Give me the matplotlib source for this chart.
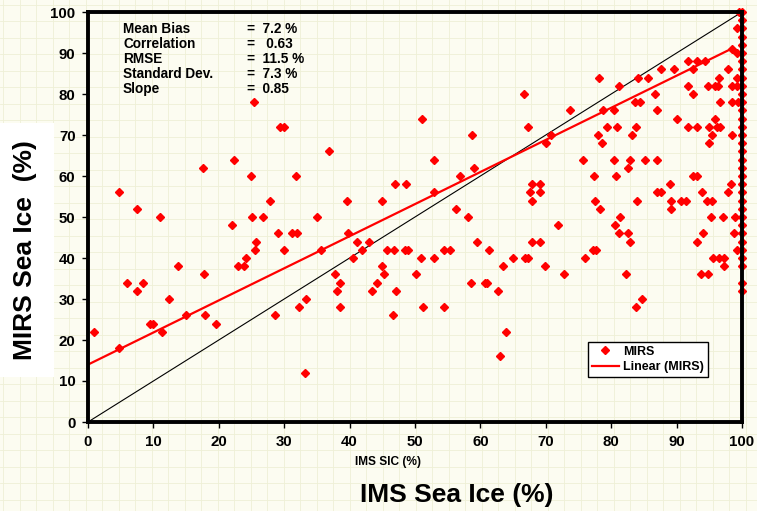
import numpy as np
import matplotlib
matplotlib.use("Agg")
import matplotlib.pyplot as plt

plt.rcParams['font.family'] = ['Liberation Sans', 'DejaVu Sans']
plt.rcParams['font.weight'] = 'bold'

# scatter points: IMS SIC (x) vs MIRS SIC (y)
ims_sic = [0.9, 4.8, 4.8, 6, 7.5, 7.5, 8.4, 9.5, 10, 11, 11.3, 12.4, 13.8, 15, 17.6, 17.7, 17.9, 19.6,
           22, 22.3, 22.9, 23.8, 24.2, 24.9, 25.1, 25.4, 25.5, 25.7, 26.8, 27.8, 28.6, 29.1, 29.3, 30,
           30, 31.2, 31.8, 32, 32.2, 33.3, 33.2, 35, 35.6, 36.9, 37.8, 38.1, 38.5, 38.5, 39.6, 39.8,
           40.5, 41.1, 41.9, 43, 43.4, 44.2, 45, 45, 45.3, 45.7, 46.6, 46.8, 46.9, 47.1, 48.5, 48.6,
           48.9, 50.2, 50.9, 51.1, 51.2, 52.9, 52.9, 52.9, 54.4, 54.4, 55.4, 56.3, 56.9, 58.1, 58.6,
           58.7, 59, 59.5, 60.7, 61, 61.3, 62.7, 63, 63.5, 63.9, 65,
           66.7, 66.8, 67.3, 67.3, 67.6, 67.9, 67.9, 67.9, 69.1, 69.1, 69.1, 69.9, 70, 70.8, 71.9,
           72.8, 73.7, 75.7, 76, 77.4, 77.2, 77.7, 77.5, 78, 78.1, 78.3, 78.6, 78.8, 79.4, 80.4, 80.4,
           80.6, 80.7, 80.9, 81.2, 81.2, 81.3, 82.3, 82.6, 82.6, 82.9, 82.9, 83.2, 83.6, 83.8, 83.8,
           83.9, 84.1, 84.4, 84.7, 85.2, 85.6, 86.7, 87, 87, 87, 87.6, 87.6, 89, 89.1, 89.1, 89.6, 90,
           90.7, 91.4, 91.7, 91.7, 91.7, 92.5, 92.5, 92.5, 93.1, 93.1, 93.1, 93.1, 93.7, 93.9, 94,
           94.3, 94.6, 94.8, 94.8, 95, 95, 95.2, 95.4, 95.4, 95.6, 95.9, 95.9, 96.2, 96.3, 96.5, 96.5,
           96.6, 96.6, 97.1, 97.2, 97.2, 97.9, 97.9, 98.3, 98.5, 98.5, 98.5, 98.5, 98.8, 98.9, 99.2,
           99.2, 99.2, 99.2, 99.2, 99.4, 99.5]
mirs_sic = [22, 18, 56, 34, 32, 52, 34, 24, 24, 50, 22, 30, 38, 26, 62, 36, 26, 24,
            48, 64, 38, 38, 40, 60, 50, 78, 42, 44, 50, 54, 26, 46, 72, 72,
            42, 46, 60, 46, 28, 30, 12, 50, 42, 66, 36, 32, 34, 28, 54, 46,
            40, 44, 42, 44, 32, 34, 54, 38, 36, 42, 26, 42, 58, 32, 42, 58,
            42, 36, 40, 74, 28, 64, 56, 40, 42, 28, 42, 52, 60, 50, 34,
            70, 62, 44, 34, 34, 42, 32, 16, 38, 22, 40,
            80, 40, 40, 72, 56, 58, 54, 44, 58, 56, 44, 38, 68, 70, 48,
            36, 76, 64, 40, 60, 42, 42, 54, 70, 84, 52, 68, 76, 72, 76, 64,
            48, 60, 72, 82, 46, 50, 36, 62, 46, 64, 44, 70, 78, 72, 28,
            54, 84, 78, 30, 64, 84, 80, 76, 64, 56, 56, 86, 58, 54, 52, 86, 74,
            54, 54, 88, 82, 72, 86, 80, 60, 88, 72, 60, 44, 36, 56, 46,
            88, 54, 82, 36, 72, 68, 50, 70, 54, 40, 82, 74, 72, 82, 84, 40,
            78, 72, 50, 40, 38, 86, 56, 58, 91, 82, 78, 70, 46, 50, 96,
            90, 84, 82, 42, 78, 100]

# points stacked at IMS = 100 %
mirs_at_100 = [100, 98, 96, 94, 92, 90, 88, 86, 84, 82, 80, 78, 76, 74, 72, 70, 68, 66, 64, 62,
               60, 58, 56, 54, 52, 50, 48, 46, 44, 42, 40, 38, 34, 32]
ims_at_100 = [100] * len(mirs_at_100)

# linear trend line ends
fit_x = [0, 98.6]
fit_y = [14, 91.2]

stats_names = ['Mean Bias', 'Correlation', 'RMSE', 'Standard Dev.', 'Slope']
stats_values = ['=  7.2 %', '=   0.63', '=  11.5 %', '=  7.3 %', '=  0.85']

W, H = 757, 511
fig = plt.figure(figsize=(W / 100, H / 100), dpi=100)
fig.patch.set_facecolor('#fcfcf1')

# faint graph-paper background
bg = fig.add_axes([0, 0, 1, 1], zorder=-5)
bg.set_xlim(0, W)
bg.set_ylim(H, 0)
bg.axis('off')
for gx in np.arange(3, W, 16.5):
    bg.axvline(gx, color='#eef0d6', lw=0.6)
for gy in np.arange(5, H, 16.5):
    bg.axhline(gy, color='#eef0d6', lw=0.6)

ax = fig.add_axes([88 / W, 1 - 422 / H, 654 / W, 410 / H])
ax.set_facecolor('none')

ax.plot([0, 100], [0, 100], color='black', lw=0.8, zorder=2)
ax.plot(ims_sic + ims_at_100, mirs_sic + mirs_at_100, linestyle='none', marker='D',
        markersize=4.1, color='#ff0000', label='MIRS', zorder=3, clip_on=False)
ax.plot(fit_x, fit_y, color='#ff0000', lw=1.6, label='Linear (MIRS)', zorder=4)

ax.set_xlim(0, 100)
ax.set_ylim(0, 100)
ax.set_xticks(np.arange(0, 101, 10))
ax.set_yticks(np.arange(0, 101, 10))
ax.tick_params(labelsize=10.8, length=4, width=1, direction='out', pad=5)
for lab in ax.get_xticklabels() + ax.get_yticklabels():
    lab.set_fontweight('bold')
for sp in ax.spines.values():
    sp.set_linewidth(2.8)
    sp.set_zorder(5)

leg = ax.legend(loc='upper left', bbox_to_anchor=(0.7645, 0.195), fontsize=9,
                fancybox=False, edgecolor='black', framealpha=1, borderpad=0.3,
                handlelength=2.2, handletextpad=0.3, labelspacing=0.25, borderaxespad=0)
leg.get_frame().set_linewidth(1.0)
leg.get_frame().set_facecolor('white')
for t in leg.get_texts():
    t.set_fontweight('bold')

# statistics block
rows_y = [29, 44, 59, 74, 89]
for name, val, py in zip(stats_names, stats_values, rows_y):
    fig.text(123 / W, 1 - py / H, name, fontsize=9.8, fontweight='bold', va='center', ha='left')
    fig.text(247 / W, 1 - py / H, val, fontsize=9.8, fontweight='bold', va='center', ha='left')

fig.text(388 / W, 1 - 462 / H, 'IMS SIC (%)', fontsize=8.6, fontweight='bold', ha='center', va='center')
fig.text(457 / W, 1 - 495 / H, 'IMS Sea Ice (%)', fontsize=19, fontweight='bold', ha='center', va='center')
fig.text(25 / W, 1 - 250 / H, 'MIRS Sea Ice  (%)', fontsize=19, fontweight='bold', rotation=90,
         ha='center', va='center',
         bbox=dict(facecolor='white', edgecolor='none', pad=12))

fig.savefig('out.png', dpi=100, facecolor=fig.get_facecolor())
